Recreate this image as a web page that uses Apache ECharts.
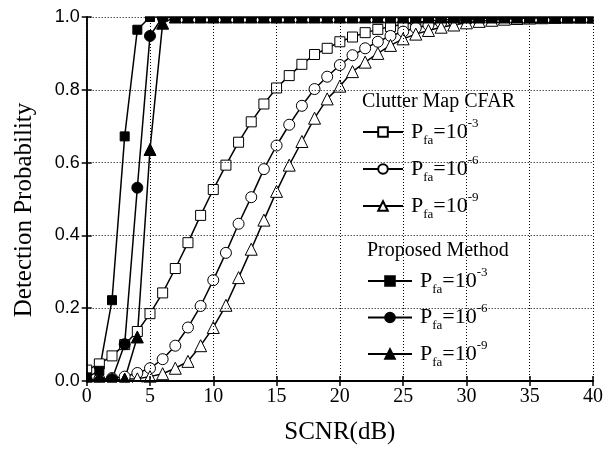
<!DOCTYPE html>
<html>
<head>
<meta charset="utf-8">
<script src="https://cdn.jsdelivr.net/npm/echarts@6/dist/echarts.min.js"></script>
<style>
  html, body { margin: 0; padding: 0; background: #fff; }
  #chart { width: 612px; height: 450px; }
</style>
</head>
<body>
<div id="chart"></div>
<script>
// SCNR in dB, one marker per dB
const snr = [0, 1, 2, 3, 4, 5, 6, 7, 8, 9, 10, 11, 12, 13, 14, 15, 16, 17, 18, 19, 20,
  21, 22, 23, 24, 25, 26, 27, 28, 29, 30, 31, 32, 33, 34, 35, 36, 37, 38, 39, 40];

// Clutter Map CFAR
const cfar3 = [0.03, 0.047, 0.069, 0.10, 0.136, 0.185, 0.242, 0.309, 0.38, 0.455, 0.526,
  0.593, 0.656, 0.712, 0.761, 0.805, 0.839, 0.870, 0.897, 0.914, 0.932,
  0.945, 0.957, 0.966, 0.974, 0.98, 0.985, 0.989, 0.992, 0.994, 0.996,
  0.997, 0.998, 0.998, 0.999, 0.999, 1, 1, 1, 1, 1];
const cfar6 = [0.003, 0.005, 0.008, 0.012, 0.022, 0.035, 0.06, 0.097, 0.147, 0.206, 0.277,
  0.352, 0.432, 0.505, 0.582, 0.647, 0.704, 0.756, 0.802, 0.836, 0.868,
  0.895, 0.914, 0.932, 0.948, 0.96, 0.97, 0.978, 0.984, 0.989, 0.992,
  0.995, 0.997, 0.998, 0.999, 1, 1, 1, 1, 1, 1];
const cfar9 = [0.003, 0.003, 0.004, 0.005, 0.006, 0.012, 0.02, 0.035, 0.054, 0.097, 0.147,
  0.208, 0.284, 0.362, 0.442, 0.521, 0.593, 0.658, 0.722, 0.775, 0.81,
  0.85, 0.876, 0.9, 0.922, 0.94, 0.953, 0.963, 0.972, 0.978, 0.984,
  0.988, 0.991, 0.994, 0.996, 0.997, 0.998, 0.999, 1, 1, 1];

// Proposed Method
const prop3 = [0.01, 0.028, 0.222, 0.672, 0.965, 1, 1, 1, 1, 1, 1,
  1, 1, 1, 1, 1, 1, 1, 1, 1, 1, 1, 1, 1, 1, 1, 1, 1, 1, 1, 1,
  1, 1, 1, 1, 1, 1, 1, 1, 1, 1];
const prop6 = [0, 0, 0.005, 0.101, 0.531, 0.948, 1, 1, 1, 1, 1,
  1, 1, 1, 1, 1, 1, 1, 1, 1, 1, 1, 1, 1, 1, 1, 1, 1, 1, 1, 1,
  1, 1, 1, 1, 1, 1, 1, 1, 1, 1];
const prop9 = [0, 0, 0, 0.005, 0.121, 0.636, 0.983, 1, 1, 1, 1,
  1, 1, 1, 1, 1, 1, 1, 1, 1, 1, 1, 1, 1, 1, 1, 1, 1, 1, 1, 1,
  1, 1, 1, 1, 1, 1, 1, 1, 1, 1];

const xTicks = [0, 5, 10, 15, 20, 25, 30, 35, 40];
const yTicks = [0.0, 0.2, 0.4, 0.6, 0.8, 1.0];

const exps = {
  'CFAR 3': '-3', 'CFAR 6': '-6', 'CFAR 9': '-9',
  'Proposed 3': '-3', 'Proposed 6': '-6', 'Proposed 9': '-9'
};

const chart = echarts.init(document.getElementById('chart'));

function makeSeries(name, vals, symbol, size, filled) {
  return {
    name: name,
    type: 'line',
    data: snr.map((x, i) => [x, vals[i]]),
    symbol: symbol,
    symbolSize: size,
    showAllSymbol: true,
    clip: false,
    lineStyle: { color: '#000', width: 1.5 },
    itemStyle: { color: filled ? '#000' : '#fff', borderColor: '#000', borderWidth: 1 },
    emphasis: { disabled: true }
  };
}

const serif = 'Liberation Serif, Times New Roman, serif';
const legendRich = {
  p: { fontFamily: serif, fontSize: 22, lineHeight: 30, color: '#000', padding: [0, 0, 0, 3] },
  s: { fontFamily: serif, fontSize: 13, lineHeight: 14, color: '#000', verticalAlign: 'bottom' },
  e: { fontFamily: serif, fontSize: 22, lineHeight: 30, color: '#000' },
  u: { fontFamily: serif, fontSize: 13, lineHeight: 16, color: '#000', verticalAlign: 'top' }
};
const legendFmt = name => '{p|P}{s|fa}{e|=10}{u|' + exps[name] + '}';

const frameAxis = {
  min: 0,
  axisLine: { show: true, lineStyle: { color: '#000', width: 1.5 } },
  axisTick: { show: true, inside: true, length: 5, lineStyle: { color: '#000', width: 1.5 } },
  axisLabel: { show: false },
  splitLine: { show: false },
  z: 10
};

chart.setOption({
  animation: false,
  backgroundColor: '#fff',
  grid: { left: 86.7, right: 19, top: 17, bottom: 68 },
  title: [
    { text: 'Clutter Map CFAR', left: 362, top: 92, padding: 0,
      textStyle: { fontFamily: serif, fontSize: 20, fontWeight: 'normal', color: '#000' } },
    { text: 'Proposed Method', left: 367, top: 241, padding: 0,
      textStyle: { fontFamily: serif, fontSize: 20, fontWeight: 'normal', color: '#000' } }
  ],
  legend: [
    { data: ['CFAR 3', 'CFAR 6', 'CFAR 9'], orient: 'vertical', left: 362, top: 117,
      itemWidth: 40, itemHeight: 12, itemGap: 7, padding: 0,
      formatter: legendFmt, textStyle: { rich: legendRich }, selectedMode: false },
    { data: ['Proposed 3', 'Proposed 6', 'Proposed 9'], orient: 'vertical', left: 367, top: 266,
      itemWidth: 44, itemHeight: 12, itemGap: 6.5, padding: 0,
      formatter: legendFmt, textStyle: { rich: legendRich }, selectedMode: false }
  ],
  xAxis: [
    {
      type: 'value', min: 0, max: 40, interval: 5, position: 'bottom',
      name: 'SCNR(dB)', nameLocation: 'middle', nameGap: 39,
      nameTextStyle: { fontFamily: serif, fontSize: 25, color: '#000' },
      axisLine: { show: true, lineStyle: { color: '#000', width: 2 } },
      axisTick: { show: true, inside: true, length: 5, lineStyle: { color: '#000', width: 1.5 } },
      axisLabel: { margin: 6, fontFamily: serif, fontSize: 20, color: '#000',
        formatter: v => xTicks.includes(v) ? String(v) : '' },
      splitLine: { show: true, lineStyle: { color: '#000', width: 1, type: [1, 2] } },
      z: 10
    },
    Object.assign({ type: 'value', max: 40, interval: 5, position: 'top' }, frameAxis)
  ],
  yAxis: [
    {
      type: 'value', min: 0, max: 1, interval: 0.2, position: 'left',
      name: 'Detection Probability', nameLocation: 'middle', nameGap: 50,
      nameTextStyle: { fontFamily: serif, fontSize: 25, color: '#000', padding: [0, 22, 0, 0] },
      axisLine: { show: true, lineStyle: { color: '#000', width: 1.5 } },
      axisTick: { show: true, inside: true, length: 5, lineStyle: { color: '#000', width: 1.5 } },
      axisLabel: { margin: 7, fontFamily: 'Liberation Sans, Arial, sans-serif', fontSize: 18, color: '#000',
        formatter: v => yTicks.some(t => Math.abs(t - v) < 1e-9) ? v.toFixed(1) : '' },
      splitLine: { show: true, lineStyle: { color: '#000', width: 1, type: [1, 2] } },
      z: 10
    },
    Object.assign({ type: 'value', max: 1, interval: 0.2, position: 'right' }, frameAxis)
  ],
  // white mask outside the plot frame so markers on the border are cut off
  graphic: [
    { type: 'rect', z: 5, silent: true, shape: { x: 0, y: 0, width: 612, height: 16.3 }, style: { fill: '#fff' } },
    { type: 'rect', z: 5, silent: true, shape: { x: 0, y: 382.7, width: 612, height: 68 }, style: { fill: '#fff' } },
    { type: 'rect', z: 5, silent: true, shape: { x: 0, y: 0, width: 86, height: 450 }, style: { fill: '#fff' } },
    { type: 'rect', z: 5, silent: true, shape: { x: 593.7, y: 0, width: 20, height: 450 }, style: { fill: '#fff' } }
  ],
  series: [
    makeSeries('CFAR 3', cfar3, 'rect', 10, false),
    makeSeries('CFAR 6', cfar6, 'circle', 11, false),
    makeSeries('CFAR 9', cfar9, 'triangle', 12, false),
    makeSeries('Proposed 3', prop3, 'rect', 9, true),
    makeSeries('Proposed 6', prop6, 'circle', 11, true),
    makeSeries('Proposed 9', prop9, 'triangle', 12, true)
  ]
});
</script>
</body>
</html>
